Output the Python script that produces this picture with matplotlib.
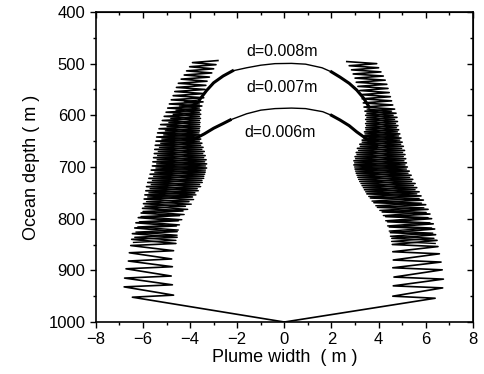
import numpy as np
import matplotlib.pyplot as plt
from matplotlib.ticker import MultipleLocator

plt.rcParams['font.family'] = ['Liberation Sans', 'DejaVu Sans']

# plume source at the sea floor
source = (0.0, 1000.0)

# outer plume edge, left: depth of each tooth, x of its outer tip and inner tip
left_depth = [952, 932, 915, 897, 882, 866, 852, 840, 829, 818, 808, 798, 789,
              780, 771, 762, 754, 746, 738, 730, 722, 714, 706, 698, 690, 682,
              674, 666, 658, 650, 642, 634, 626, 618, 610, 602, 594, 586, 578,
              570, 562, 554, 546, 538, 530, 522, 514, 506, 498]
left_outer = [-6.45, -6.8, -6.78, -6.72, -6.62, -6.58, -6.52, -6.48, -6.45,
              -6.35, -6.3, -6.2, -6.08, -6.02, -5.98, -5.95, -5.92, -5.88,
              -5.85, -5.8, -5.75, -5.7, -5.65, -5.6, -5.58, -5.55, -5.52,
              -5.5, -5.48, -5.45, -5.42, -5.38, -5.32, -5.25, -5.18, -5.1,
              -5.02, -4.95, -4.88, -4.8, -4.72, -4.65, -4.58, -4.5, -4.38,
              -4.25, -4.15, -4.02, -3.9]
left_inner = [-4.7, -4.75, -4.8, -4.75, -4.78, -4.7, -4.6, -4.55, -4.55,
              -4.58, -4.5, -4.45, -4.3, -4.2, -4.05, -3.9, -3.8, -3.7, -3.6,
              -3.5, -3.42, -3.36, -3.3, -3.3, -3.32, -3.36, -3.4, -3.45, -3.5,
              -3.55, -3.6, -3.6, -3.58, -3.58, -3.56, -3.55, -3.55, -3.5,
              -3.45, -3.42, -3.4, -3.36, -3.33, -3.28, -3.18, -3.08, -3.0,
              -2.9, -2.82]

# outer plume edge, right
right_depth = [954, 934, 917, 899, 884, 868, 854, 842, 831, 820, 810, 800, 791,
               782, 773, 764, 756, 748, 740, 732, 724, 716, 708, 700, 692, 684,
               676, 668, 660, 652, 644, 636, 628, 620, 612, 604, 596, 588, 580,
               572, 564, 556, 548, 540, 532, 524, 516, 508, 500]
right_outer = [6.4, 6.72, 6.75, 6.7, 6.65, 6.58, 6.52, 6.48, 6.42, 6.38, 6.32,
               6.25, 6.18, 6.1, 6.0, 5.9, 5.8, 5.72, 5.62, 5.55, 5.45, 5.38,
               5.3, 5.22, 5.18, 5.15, 5.12, 5.1, 5.05, 5.0, 4.95, 4.9, 4.85,
               4.82, 4.8, 4.78, 4.74, 4.68, 4.6, 4.55, 4.5, 4.45, 4.4, 4.35,
               4.28, 4.2, 4.1, 4.0, 3.92]
right_inner = [4.6, 4.62, 4.65, 4.6, 4.62, 4.6, 4.58, 4.56, 4.5, 4.45, 4.38,
               4.3, 4.15, 3.95, 3.8, 3.65, 3.5, 3.4, 3.3, 3.2, 3.12, 3.05, 3.0,
               2.95, 2.95, 3.0, 3.05, 3.1, 3.2, 3.3, 3.35, 3.4, 3.45, 3.45,
               3.45, 3.45, 3.42, 3.38, 3.35, 3.3, 3.25, 3.2, 3.12, 3.05, 3.0,
               2.92, 2.85, 2.75, 2.65]

# second (capped) plume, overlapping the outer one in mid depth
left2_depth = [846, 836, 826, 816, 806, 796, 786, 776, 767, 758, 750, 742, 734,
               726, 718, 710, 702, 694, 686, 678, 670, 662, 654, 646, 638, 630,
               622, 614, 606, 598, 590, 582, 574]
left2_outer = [-6.4, -6.35, -6.3, -6.22, -6.15, -6.08, -6.0, -5.92, -5.85,
               -5.8, -5.75, -5.7, -5.65, -5.6, -5.55, -5.5, -5.45, -5.42, -5.4,
               -5.38, -5.35, -5.3, -5.25, -5.2, -5.12, -5.05, -4.98, -4.9,
               -4.82, -4.72, -4.6, -4.45, -4.25]
left2_inner = [-4.6, -4.55, -4.5, -4.45, -4.35, -4.25, -4.1, -3.95, -3.85,
               -3.75, -3.65, -3.55, -3.48, -3.42, -3.38, -3.35, -3.35, -3.38,
               -3.42, -3.46, -3.5, -3.55, -3.6, -3.62, -3.62, -3.6, -3.6, -3.6,
               -3.6, -3.6, -3.6, -3.6, -3.6]
right2_depth = [848, 838, 828, 818, 808, 798, 788, 779, 770, 761, 752, 744,
                736, 728, 720, 712, 704, 696, 688, 680, 672, 664, 656, 648,
                640, 632, 624, 616, 608, 600, 592]
right2_outer = [6.4, 6.35, 6.3, 6.25, 6.18, 6.1, 6.02, 5.92, 5.82, 5.72, 5.62,
                5.55, 5.48, 5.4, 5.32, 5.25, 5.18, 5.12, 5.08, 5.05, 5.02,
                4.98, 4.94, 4.9, 4.85, 4.8, 4.76, 4.72, 4.68, 4.62, 4.55]
right2_inner = [4.55, 4.5, 4.45, 4.38, 4.3, 4.2, 4.05, 3.88, 3.72, 3.58, 3.45,
                3.35, 3.25, 3.15, 3.08, 3.02, 2.98, 2.98, 3.02, 3.08, 3.15,
                3.22, 3.3, 3.36, 3.42, 3.46, 3.48, 3.5, 3.5, 3.5, 3.52]
tooth_rise = 4  # m, inner tip sits a little above the outer tip

# plume caps
cap_hi_x = [-3.6, -3.3, -3.0, -2.6, -2.2, -1.6, -1.0, -0.4, 0.3, 0.9, 1.6,
            2.0, 2.36, 2.75, 3.07, 3.35, 3.6]
cap_hi_depth = [570, 552, 537, 524, 514, 508, 503, 500, 499.5, 501, 508,
                516, 526, 538, 551, 566, 584]
cap_lo_x = [-3.9, -3.4, -3.0, -2.6, -2.3, -1.6, -1.0, -0.4, 0.3, 0.9, 1.63,
            2.0, 2.36, 2.75, 3.07, 3.5, 3.9]
cap_lo_depth = [648, 636, 625, 616, 609, 597, 590, 587, 586, 587, 593,
                600, 609, 620, 632, 646, 661]

labels = ['d=0.008m', 'd=0.007m', 'd=0.006m']
label_x = [-0.1, -0.1, -0.2]
label_depth = [477, 547, 634]


def edge_path(depth, outer, inner, start=True):
    xs, ys = ([source[0]], [source[1]]) if start else ([], [])
    for d, xo, xi in zip(depth, outer, inner):
        xs += [xo, xi]
        ys += [d, d - tooth_rise]
    return xs, ys


fig = plt.figure(figsize=(4.84, 3.74), dpi=100)
ax = fig.add_axes([0.198, 0.139, 0.779, 0.829])

for dep, out, inn in [(left_depth, left_outer, left_inner),
                      (right_depth, right_outer, right_inner)]:
    xs, ys = edge_path(dep, out, inn)
    ax.plot(xs, ys, color='black', lw=1.2)

for dep, out, inn in [(left2_depth, left2_outer, left2_inner),
                      (right2_depth, right2_outer, right2_inner)]:
    xs, ys = edge_path(dep, out, inn, start=False)
    ax.plot(xs, ys, color='black', lw=1.0)

for cx, cy in [(cap_hi_x, cap_hi_depth), (cap_lo_x, cap_lo_depth)]:
    ax.plot(cx, cy, color='black', lw=1.0)
    # fuzzy shoulders where the cap joins the edge
    ax.plot(cx[:5], cy[:5], color='black', lw=2.2)
    ax.plot(cx[-6:], cy[-6:], color='black', lw=2.2)

for t, x, y in zip(labels, label_x, label_depth):
    ax.text(x, y, t, ha='center', va='center', fontsize=11.5)

ax.set_xlim(-8, 8)
ax.set_ylim(1000, 400)
ax.xaxis.set_major_locator(MultipleLocator(2))
ax.xaxis.set_minor_locator(MultipleLocator(1))
ax.yaxis.set_major_locator(MultipleLocator(100))
ax.yaxis.set_minor_locator(MultipleLocator(50))
ax.tick_params(which='both', direction='out', labelsize=12, width=1.0)
ax.tick_params(which='major', length=4)
ax.tick_params(which='minor', length=2.5)
for s in ax.spines.values():
    s.set_linewidth(1.2)

# inward ticks on the top and right frame
top = ax.secondary_xaxis('top')
right = ax.secondary_yaxis('right')
for sec in (top, right):
    sec.tick_params(which='both', direction='in', width=1.0)
    sec.tick_params(which='major', length=4)
    sec.tick_params(which='minor', length=2.5)
top.xaxis.set_major_locator(MultipleLocator(2))
top.xaxis.set_minor_locator(MultipleLocator(1))
top.set_xticklabels([])
right.yaxis.set_major_locator(MultipleLocator(100))
right.yaxis.set_minor_locator(MultipleLocator(50))
right.set_yticklabels([])

ax.set_xlabel('Plume width  ( m )', fontsize=13, labelpad=1)
ax.set_ylabel('Ocean depth ( m )', fontsize=13, labelpad=6)

fig.savefig('out.png', dpi=100)
